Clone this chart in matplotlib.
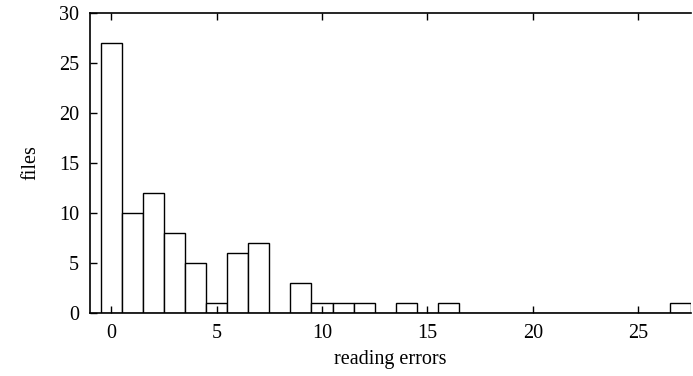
import matplotlib.pyplot as plt

# reading errors per file (histogram counts)
errors = list(range(0, 28))
files = [27, 10, 12, 8, 5, 1, 6, 7, 0, 3, 1, 1, 1, 0, 1, 0, 1,
         0, 0, 0, 0, 0, 0, 0, 0, 0, 0, 1]

plt.rcParams['font.family'] = ['Liberation Serif', 'DejaVu Serif']
plt.rcParams['font.size'] = 14.5

fig = plt.figure(figsize=(6.93, 3.76), dpi=100)
ax = fig.add_axes([90 / 693, 1 - 313 / 376, 601 / 693, 300 / 376])

ax.bar(errors, files, width=1.0, color="white", edgecolor="black", linewidth=1.0)

ax.set_xlim(-1, 27.5)
ax.set_ylim(0, 30)
ax.set_xticks([0, 5, 10, 15, 20, 25])
ax.set_yticks([0, 5, 10, 15, 20, 25, 30])
ax.tick_params(direction="in", length=5, width=1, top=True, right=False, pad=8)
ax.spines["right"].set_visible(False)
for s in ["left", "bottom", "top"]:
    ax.spines[s].set_linewidth(1.2)

ax.set_xlabel("reading errors", labelpad=5)
ax.set_ylabel("files", labelpad=13)

fig.savefig("out.png", dpi=100)
